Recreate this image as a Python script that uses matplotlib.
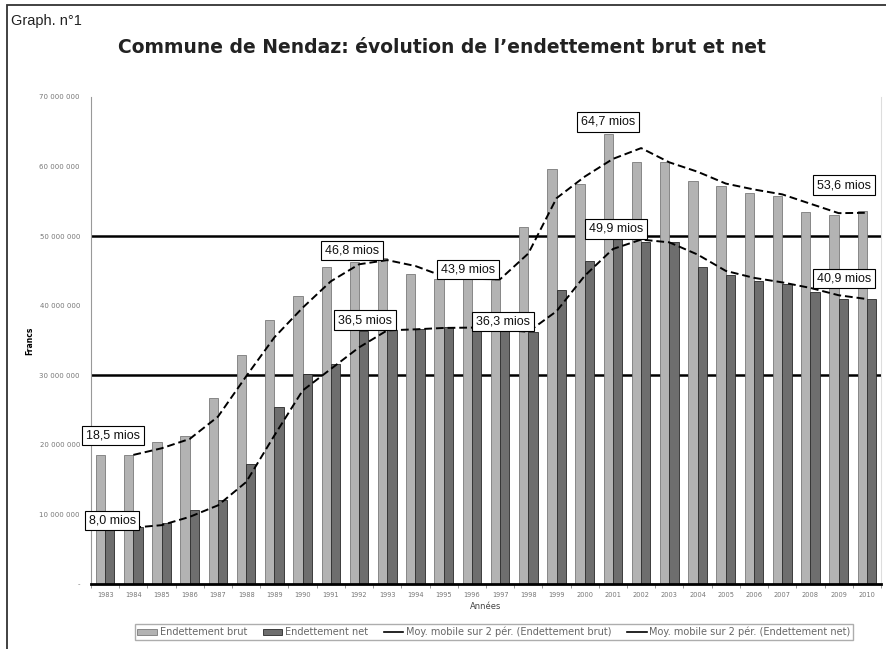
import numpy as np
import matplotlib
matplotlib.use("Agg")
import matplotlib.pyplot as plt
from matplotlib.patches import Rectangle, Patch
from matplotlib.lines import Line2D

# values in millions of francs
years = list(range(1983, 2011))
brut = [18.5, 18.6, 20.4, 21.3, 26.8, 32.9, 38.0, 41.4, 45.6, 46.3,
        46.8, 44.6, 43.8, 43.9, 43.7, 51.3, 59.6, 57.5, 64.7, 60.6,
        60.6, 57.9, 57.2, 56.2, 55.8, 53.5, 53.1, 53.6]
net = [8.0, 8.2, 8.7, 10.6, 12.0, 17.3, 25.4, 30.2, 31.6, 36.4,
       36.5, 36.7, 36.9, 36.8, 36.3, 36.2, 42.2, 46.4, 49.9, 49.1,
       49.1, 45.6, 44.4, 43.6, 43.1, 42.0, 41.0, 40.9]

# labelled points: (series, index, text, offset in pixels)
labels = [
    ("brut", 0, "18,5 mios", (8, 20)),
    ("net", 0, "8,0 mios", (7, 8)),
    ("brut", 10, "46,8 mios", (-35, 8)),
    ("net", 10, "36,5 mios", (-22, 10)),
    ("brut", 13, "43,9 mios", (-4, 9)),
    ("net", 14, "36,3 mios", (3, 10)),
    ("brut", 18, "64,7 mios", (-5, 12)),
    ("net", 18, "49,9 mios", (3, 8)),
    ("brut", 27, "53,6 mios", (-23, 26)),
    ("net", 27, "40,9 mios", (-23, 21)),
]

narrow = ["Liberation Sans", "DejaVu Sans"]

brut_f = np.array(brut) * 1e6
net_f = np.array(net) * 1e6
x = np.arange(len(years))

# 2-period moving averages
ma_brut = (brut_f[1:] + brut_f[:-1]) / 2
ma_net = (net_f[1:] + net_f[:-1]) / 2

fig = plt.figure(figsize=(8.87, 6.49), dpi=100)
ax = fig.add_axes([0.1026, 0.1002, 0.8906, 0.7504])

# the two dark reference lines
for yv in (30e6, 50e6):
    ax.axhline(yv, color="black", lw=1.8, zorder=1)

w = 0.33
ax.bar(x - w / 2, brut_f, width=w, color="#b3b3b3", edgecolor="#7a7a7a",
       linewidth=0.6, zorder=2)
ax.bar(x + w / 2, net_f, width=w, color="#6e6e6e", edgecolor="#2a2a2a",
       linewidth=0.6, zorder=2)

ax.plot(x[1:], ma_brut, color="black", lw=1.4, ls=(0, (4, 2)), zorder=3)
ax.plot(x[1:], ma_net, color="black", lw=1.4, ls=(0, (4, 2)), zorder=3)

for serie, i, txt, off in labels:
    v = brut_f[i] if serie == "brut" else net_f[i]
    ax.annotate(txt, xy=(x[i], v), xytext=off, textcoords="offset pixels",
                ha="center", va="center", fontsize=9, family=narrow,
                color="#111111", zorder=5,
                bbox=dict(boxstyle="square,pad=0.3", fc="white", ec="black", lw=0.8))

ax.set_xlim(-0.5, len(years) - 0.5)
ax.set_ylim(0, 70e6)
ax.set_yticks(np.arange(0, 70e6 + 1, 10e6))
ax.set_yticklabels(["-"] + [f"{int(v):,}".replace(",", " ") for v in np.arange(10e6, 70e6 + 1, 10e6)],
                   fontsize=5, color="#777777")
ax.set_xticks(x)
ax.set_xticklabels([str(y) for y in years], fontsize=4.8, color="#777777")
ax.set_xticks(np.arange(-0.5, len(years)), minor=True)
ax.tick_params(axis="x", which="major", length=0, pad=6)
ax.tick_params(axis="x", which="minor", length=3, color="#888888")
ax.tick_params(axis="y", length=0, pad=8)

ax.spines["top"].set_visible(False)
ax.spines["left"].set_color("#999999")
ax.spines["right"].set_color("#dddddd")
ax.spines["bottom"].set_linewidth(2)

ax.set_ylabel("Francs", fontsize=5.5, fontweight="bold", labelpad=4)
ax.set_xlabel("Années", fontsize=6, color="#444444", labelpad=3)

handles = [
    Patch(fc="#b3b3b3", ec="#7a7a7a", lw=0.6),
    Patch(fc="#6e6e6e", ec="#2a2a2a", lw=0.6),
    Line2D([], [], color="black", lw=1.2),
    Line2D([], [], color="black", lw=1.2),
]
names = ["Endettement brut", "Endettement net",
         "Moy. mobile sur 2 pér. (Endettement brut)",
         "Moy. mobile sur 2 pér. (Endettement net)"]
fig.legend(handles, names, ncol=4, loc="center", bbox_to_anchor=(0.557, 0.026),
           fontsize=7, frameon=True, fancybox=False, edgecolor="#999999",
           handlelength=2.0, handletextpad=0.3, columnspacing=1.6,
           borderpad=0.25, labelcolor="#666666")

fig.text(0.012, 0.968, "Graph. n°1", fontsize=10.5, family=narrow, color="#222222",
         va="center", ha="left")
fig.text(0.498, 0.927, "Commune de Nendaz: évolution de l\u2019endettement brut et net",
         fontsize=13.5, fontweight="bold", color="#222222", ha="center", va="center")

# outer frame
fig.patches.append(Rectangle((7 / 887, -0.05), 1.1, 0.05 + (649 - 5) / 649,
                             transform=fig.transFigure, fill=False,
                             ec="#333333", lw=1.3))

fig.savefig("out.png", dpi=100)
